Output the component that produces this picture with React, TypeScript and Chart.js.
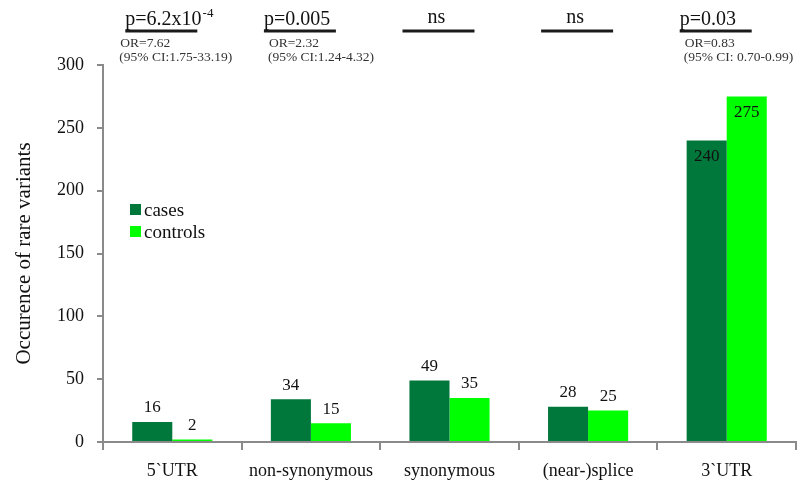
import React, { useEffect, useRef } from "react";
import { Chart, registerables } from "chart.js";

Chart.register(...registerables);

const categories = ["5`UTR", "non-synonymous", "synonymous", "(near-)splice", "3`UTR"];
const casesValues = [16, 34, 49, 28, 240];
const controlsValues = [2, 15, 35, 25, 275];
const seriesNames = ["cases", "controls"];
const yTicks = [0, 50, 100, 150, 200, 250, 300];
const pLabels = ["p=6.2x10", "p=0.005", "ns", "ns", "p=0.03"];
const pSuperscripts = ["-4", "", "", "", ""];
const orLabels = ["OR=7.62", "OR=2.32", "", "", "OR=0.83"];
const ciLabels = ["(95% CI:1.75-33.19)", "(95% CI:1.24-4.32)", "", "", "(95% CI: 0.70-0.99)"];
const yTitle = "Occurence of rare variants";

const SERIF = "'Liberation Serif', 'Times New Roman', serif";
const CASES_COLOR = "#00773B";
const CONTROLS_COLOR = "#00FF00";
const AXIS_COLOR = "#8a8a8a";

const valueLabelPlugin = {
  id: "valueLabels",
  afterDatasetsDraw(chart: any) {
    const ctx = chart.ctx;
    ctx.save();
    ctx.font = `17px ${SERIF}`;
    ctx.fillStyle = "#111";
    ctx.textAlign = "center";
    ctx.textBaseline = "middle";
    chart.data.datasets.forEach((ds: any, di: number) => {
      const meta = chart.getDatasetMeta(di);
      meta.data.forEach((bar: any, i: number) => {
        const v = ds.data[i];
        const y = v > 200 ? bar.y + 16 : bar.y - 14;
        ctx.fillText(String(v), bar.x, y);
      });
    });
    ctx.restore();
  },
};

const annotationPlugin = {
  id: "annotations",
  afterDraw(chart: any) {
    const ctx = chart.ctx;
    const xs = chart.scales.x;
    ctx.save();
    categories.forEach((_c, i) => {
      const cx = xs.getPixelForValue(i) - 11;
      const ulLeft = cx - 36;
      const ulRight = cx + 36;
      ctx.strokeStyle = "#1a1a1a";
      ctx.lineWidth = 3;
      ctx.beginPath();
      ctx.moveTo(ulLeft, 31);
      ctx.lineTo(ulRight, 31);
      ctx.stroke();
      ctx.fillStyle = "#111";
      ctx.textBaseline = "alphabetic";
      const label = pLabels[i];
      if (label === "ns") {
        ctx.font = `20px ${SERIF}`;
        ctx.textAlign = "center";
        ctx.fillText(label, cx - 2, 23);
      } else {
        ctx.font = `20px ${SERIF}`;
        ctx.textAlign = "left";
        ctx.fillText(label, ulLeft, 25);
        const w = ctx.measureText(label).width;
        if (pSuperscripts[i]) {
          ctx.font = `13px ${SERIF}`;
          ctx.fillText(pSuperscripts[i], ulLeft + w + 1, 17);
        }
      }
      if (orLabels[i]) {
        ctx.font = `13.5px ${SERIF}`;
        ctx.fillStyle = "#333";
        ctx.textAlign = "left";
        ctx.textBaseline = "middle";
        const ox = i === 0 ? ulLeft - 5 : ulLeft + 5;
        ctx.fillText(orLabels[i], ox, 43);
        ctx.fillText(ciLabels[i], ox - 1, 57);
      }
    });
    const lx = chart.chartArea.left + 27;
    const ly = 204;
    const colors = [CASES_COLOR, CONTROLS_COLOR];
    seriesNames.forEach((name, i) => {
      const y = ly + i * 22;
      ctx.fillStyle = colors[i];
      ctx.fillRect(lx, y, 11, 11);
      ctx.fillStyle = "#111";
      ctx.font = `19px ${SERIF}`;
      ctx.textAlign = "left";
      ctx.textBaseline = "middle";
      ctx.fillText(name, lx + 14, y + 7);
    });
    ctx.restore();
  },
};

export default function App() {
  const ref = useRef<HTMLCanvasElement>(null);
  useEffect(() => {
    if (!ref.current) return;
    const chart = new Chart(ref.current, {
      type: "bar",
      data: {
        labels: categories,
        datasets: [
          {
            label: seriesNames[0],
            data: casesValues,
            backgroundColor: CASES_COLOR,
            categoryPercentage: 0.578,
            barPercentage: 1,
          },
          {
            label: seriesNames[1],
            data: controlsValues,
            backgroundColor: CONTROLS_COLOR,
            categoryPercentage: 0.578,
            barPercentage: 1,
          },
        ],
      },
      options: {
        responsive: false,
        animation: false,
        layout: { padding: { top: 65, right: 14, left: 0, bottom: 0 } },
        plugins: {
          legend: { display: false },
          tooltip: { enabled: false },
          title: { display: false },
        },
        scales: {
          x: {
            grid: {
              display: true,
              drawOnChartArea: false,
              tickLength: 8,
              color: AXIS_COLOR,
              lineWidth: 2,
              offset: true,
            },
            border: { color: AXIS_COLOR, width: 2 },
            ticks: {
              font: { family: SERIF, size: 18 },
              color: "#111",
              padding: 10,
              maxRotation: 0,
              autoSkip: false,
            },
            afterFit(scale: any) {
              scale.height = 43;
            },
          },
          y: {
            min: 0,
            max: 300,
            afterBuildTicks(scale: any) {
              scale.ticks = yTicks.map((v) => ({ value: v }));
            },
            grid: {
              display: true,
              drawOnChartArea: false,
              tickLength: 6,
              color: AXIS_COLOR,
              lineWidth: 2,
            },
            border: { color: AXIS_COLOR, width: 2 },
            ticks: {
              font: { family: SERIF, size: 18 },
              color: "#111",
              padding: 13,
            },
            title: {
              display: true,
              text: yTitle,
              font: { family: SERIF, size: 21 },
              color: "#111",
              padding: { top: 12, bottom: 0 },
            },
            afterFit(scale: any) {
              scale.width = 103;
            },
          },
        },
      },
      plugins: [valueLabelPlugin, annotationPlugin],
    });
    return () => chart.destroy();
  }, []);
  return (
    <div style={{ position: "absolute", left: 0, top: 0, width: 810, height: 485, background: "#fff" }}>
      <canvas ref={ref} width={810} height={485} />
    </div>
  );
}
